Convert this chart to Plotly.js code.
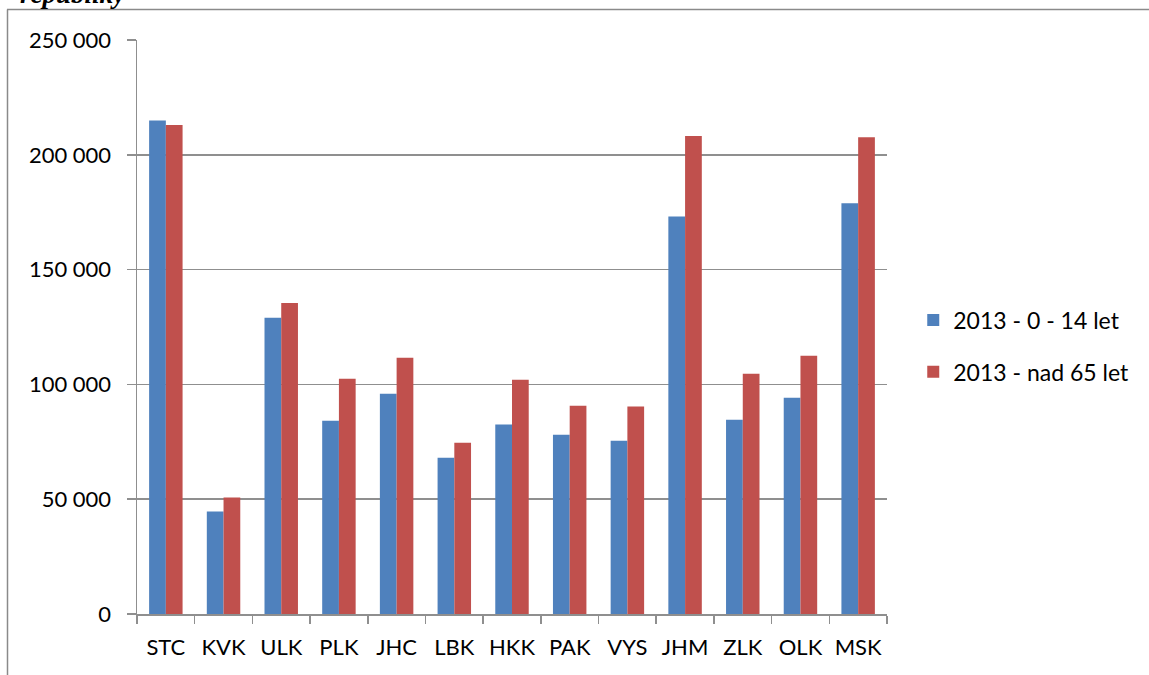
<!DOCTYPE html>
<html>
<head>
<meta charset="utf-8">
<script src="https://cdn.plot.ly/plotly-3.0.1.min.js"></script>
<style>html,body{margin:0;padding:0;background:#fff;}#chart{width:1149px;height:675px;}</style>
</head>
<body>
<div id="chart"></div>
<script>
const categories = ["STC","KVK","ULK","PLK","JHC","LBK","HKK","PAK","VYS","JHM","ZLK","OLK","MSK"];
const children0to14 = [214900, 44600, 129000, 84200, 95900, 68100, 82500, 78100, 75500, 173100, 84600, 94200, 178900];
const seniorsOver65 = [213000, 50700, 135500, 102500, 111600, 74600, 102000, 90700, 90400, 208200, 104600, 112500, 207600];
const seriesNames = ["2013 - 0 - 14 let", "2013 - nad 65 let"];
const yTicks = [0, 50000, 100000, 150000, 200000, 250000];
const titleText = "republiky";

const font = {family: "Lato, 'Open Sans', sans-serif", size: 22, color: "#000"};
const legendFont = {family: "Lato, 'Open Sans', sans-serif", size: 23, color: "#000"};
const gridColor = "#8f8f8f";

const data = [
  {type: "bar", name: seriesNames[0], x: categories, y: children0to14,
   marker: {color: "#4F81BD"}, legendgroup: "a"},
  {type: "bar", name: seriesNames[1], x: categories, y: seniorsOver65,
   marker: {color: "#C0504D"}, legendgroup: "b"}
];

const layout = {
  width: 1149, height: 675,
  margin: {l: 137, r: 262, t: 40, b: 61, pad: 0},
  paper_bgcolor: "#fff", plot_bgcolor: "#fff",
  font: font,
  separators: ", ",
  barmode: "group",
  bargap: 0.42,
  bargroupgap: 0,
  xaxis: {
    type: "category",
    tickson: "boundaries",
    ticks: "outside", ticklen: 8, tickwidth: 1.5, tickcolor: gridColor,
    showline: true, linecolor: gridColor, linewidth: 1.5,
    showgrid: false, zeroline: false,
    ticklabelstandoff: 13,
    tickfont: font
  },
  yaxis: {
    range: [0, 250000],
    tickvals: yTicks,
    tickformat: ",d",
    ticks: "outside", ticklen: 9, tickwidth: 1.5, tickcolor: gridColor,
    showline: true, linecolor: gridColor, linewidth: 1.5,
    showgrid: true, gridcolor: gridColor, gridwidth: 1.5,
    zeroline: false,
    ticklabelstandoff: 11,
    tickfont: font
  },
  showlegend: true,
  legend: {
    x: 1.035, xanchor: "left", y: 0.467, yanchor: "middle",
    font: legendFont, tracegroupgap: 19, bgcolor: "rgba(0,0,0,0)",
    itemwidth: 30
  },
  shapes: [
    {type: "line", xref: "paper", yref: "paper",
     x0: (7 - 137) / 750, x1: (1160 - 137) / 750,
     y0: (614 - 9.5) / 574, y1: (614 - 9.5) / 574,
     line: {color: "#8a8a8a", width: 1.5}},
    {type: "line", xref: "paper", yref: "paper",
     x0: (7.5 - 137) / 750, x1: (7.5 - 137) / 750,
     y0: (614 - 9.5) / 574, y1: (614 - 690) / 574,
     line: {color: "#8a8a8a", width: 1.5}}
  ],
  annotations: [
    {text: "<b><i>" + titleText + "</i></b>", xref: "paper", yref: "paper",
     x: (18 - 137) / 750, xanchor: "left",
     y: (614 + 1.5) / 574, yanchor: "bottom", yshift: -12,
     showarrow: false,
     font: {family: "'Liberation Serif', 'DejaVu Serif', serif", size: 27, color: "#000"}}
  ]
};

Plotly.newPlot("chart", data, layout, {displayModeBar: false, staticPlot: true});
</script>
</body>
</html>
